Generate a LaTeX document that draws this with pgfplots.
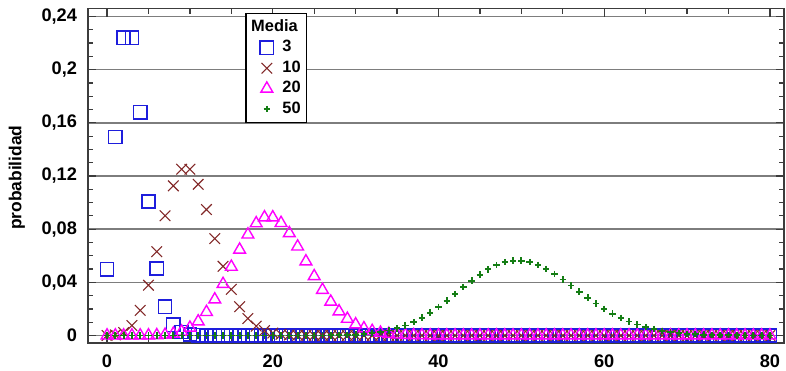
\documentclass[border=0pt]{standalone}
\usepackage{fontspec}
\setmainfont{Liberation Sans}
\usepackage{pgfplots}
\usepackage{pgfplotstable}
\pgfplotsset{compat=1.18}

\definecolor{mblue}{RGB}{30,30,220}
\definecolor{mbrown}{RGB}{130,40,40}
\definecolor{mmag}{RGB}{255,0,255}
\definecolor{mgreen}{RGB}{20,125,20}
\definecolor{gridgray}{RGB}{125,125,125}
\definecolor{axgray}{RGB}{60,60,60}

% Poisson probabilities for means 3, 10, 20 and 50
\pgfplotstableread{
k m3 m10 m20 m50
0 0.049787 0.0000454 0 0
1 0.149361 0.000454 0 0
2 0.224042 0.002270 0 0
3 0.224042 0.007567 0.0000027 0
4 0.168031 0.018917 0.0000137 0
5 0.100819 0.037833 0.0000549 0
6 0.050409 0.063055 0.000183 0
7 0.021604 0.090079 0.000523 0
8 0.008102 0.112599 0.001309 0
9 0.002701 0.125110 0.002908 0
10 0.000810 0.125110 0.005816 0
11 0.000221 0.113736 0.010575 0
12 0.000055 0.094780 0.017625 0
13 0.000013 0.072908 0.027116 0
14 0 0.052077 0.038737 0
15 0 0.034718 0.051649 0
16 0 0.021699 0.064561 0
17 0 0.012764 0.075954 0
18 0 0.007091 0.084393 0
19 0 0.003732 0.088835 0
20 0 0.001866 0.088835 0
21 0 0.000889 0.084605 0
22 0 0.000404 0.076914 0
23 0 0.000176 0.066881 0.0000089
24 0 0.000073 0.055735 0.0000185
25 0 0.000029 0.044588 0.0000371
26 0 0.000011 0.034298 0.0000713
27 0 0 0.025406 0.000132
28 0 0 0.018147 0.000236
29 0 0 0.012515 0.000406
30 0 0 0.008344 0.000677
31 0 0 0.005383 0.001092
32 0 0 0.003364 0.001707
33 0 0 0.002039 0.002586
34 0 0 0.001199 0.003803
35 0 0 0.000685 0.005432
36 0 0 0.000381 0.007545
37 0 0 0.000206 0.010196
38 0 0 0.000108 0.013416
39 0 0 0.000056 0.017199
40 0 0 0.000028 0.021499
41 0 0 0.000014 0.026219
42 0 0 0.000006 0.031213
43 0 0 0 0.036294
44 0 0 0 0.041243
45 0 0 0 0.045826
46 0 0 0 0.049811
47 0 0 0 0.052991
48 0 0 0 0.055199
49 0 0 0 0.056325
50 0 0 0 0.056325
51 0 0 0 0.055221
52 0 0 0 0.053097
53 0 0 0 0.050092
54 0 0 0 0.046381
55 0 0 0 0.042165
56 0 0 0 0.037647
57 0 0 0 0.033024
58 0 0 0 0.028469
59 0 0 0 0.024126
60 0 0 0 0.020105
61 0 0 0 0.016480
62 0 0 0 0.013290
63 0 0 0 0.010548
64 0 0 0 0.008241
65 0 0 0 0.006339
66 0 0 0 0.004802
67 0 0 0 0.003584
68 0 0 0 0.002635
69 0 0 0 0.001909
70 0 0 0 0.001364
71 0 0 0 0.000961
72 0 0 0 0.000667
73 0 0 0 0.000457
74 0 0 0 0.000309
75 0 0 0 0.000206
76 0 0 0 0.000135
77 0 0 0 0.000088
78 0 0 0 0.000056
79 0 0 0 0.000036
80 0 0 0 0.000022
}\poisson

\begin{document}
\begin{tikzpicture}
\path[use as bounding box] (0,0) rectangle (393pt,185pt);
\begin{axis}[
  at={(44pt,13.65pt)}, anchor=south west,
  scale only axis,
  width=348pt, height=167.1pt,
  xmin=-2.3, xmax=81.7,
  ymin=-0.0054, ymax=0.246,
  xtick={0,20,40,60,80},
  xticklabels={\textbf{0},\textbf{20},\textbf{40},\textbf{60},\textbf{80}},
  minor xtick={5,10,15,25,30,35,45,50,55,65,70,75},
  ytick={0,0.04,0.08,0.12,0.16,0.2,0.24},
  yticklabels={\textbf{0},\textbf{0,04},\textbf{0,08},\textbf{0,12},\textbf{0,16},\textbf{0,2},\textbf{0,24}},
  minor y tick num=3,
  tick align=inside,
  major tick length=4pt, minor tick length=2.5pt,
  every tick/.style={axgray, line width=0.6pt},
  ticklabel style={font=\fontsize{9.1}{10}\selectfont},
  yticklabel style={xshift=-2pt},
  xticklabel style={yshift=-2.5pt},
  ymajorgrids,
  major grid style={gridgray, line width=0.75pt},
  axis line style={axgray, line width=0.8pt},
  ylabel={\textbf{probabilidad}},
  every axis y label/.style={at={(rel axis cs:0,0.494)}, xshift=-35.5pt, rotate=90, anchor=center, font=\fontsize{8.7}{10}\selectfont},
  legend image code/.code={%
    \path (0cm,0cm) (0.51cm,0cm);
    \draw[mark repeat=2,mark phase=2,#1] plot coordinates {(0cm,0cm) (0.32cm,0cm) (0.51cm,0cm)};},
  legend style={at={(0.2256,0.987)}, anchor=north west,
    draw=black, line width=0.8pt, fill=white,
    font=\bfseries\fontsize{8.2}{9}\selectfont,
    inner xsep=1pt, inner ysep=1pt, row sep=-1pt,
    cells={anchor=west}},
]
\addlegendimage{empty legend}
\addlegendentry{\hspace*{-15.6pt}Media}
\addplot[only marks, color=mblue, mark=square, mark size=3.3pt, mark options={line width=0.75pt}] table[x=k, y=m3] {\poisson};
\addlegendentry{3}
\addplot[only marks, color=mbrown, mark=x, mark size=3.75pt, mark options={line width=0.55pt}] table[x=k, y=m10] {\poisson};
\addlegendentry{10}
\addplot[only marks, color=mmag, mark=triangle, mark size=3.4pt, mark options={line width=0.7pt}] table[x=k, y=m20] {\poisson};
\addlegendentry{20}
\addplot[only marks, color=mgreen, mark=+, mark size=1.6pt, mark options={line width=0.9pt}] table[x=k, y=m50] {\poisson};
\addlegendentry{50}
\end{axis}
\end{tikzpicture}
\end{document}
